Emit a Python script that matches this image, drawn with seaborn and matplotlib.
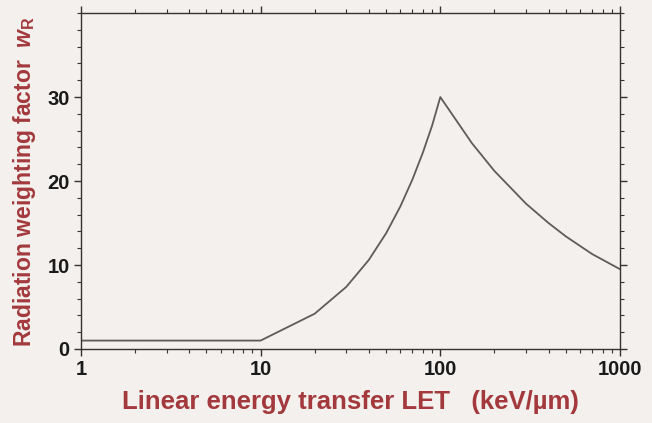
import matplotlib
matplotlib.use("Agg")
import matplotlib.pyplot as plt
import seaborn as sns
import pandas as pd
from matplotlib.ticker import LogLocator, MultipleLocator, FixedLocator

# Data
let_values = [1, 10, 20, 30, 40, 50, 60, 70, 80, 90, 100, 150, 200, 300, 400, 500, 700, 1000]
w_r_values = [1.0, 1.0, 4.2, 7.4, 10.6, 13.8, 17.0, 20.2, 23.4, 26.6, 30.0, 24.5, 21.2, 17.3, 15.0, 13.4, 11.3, 9.5]
x_ticks = [1, 10, 100, 1000]
x_ticklabels = ["1", "10", "100", "1000"]
y_ticks = [0, 10, 20, 30]
y_ticklabels = ["0", "10", "20", "30"]

df = pd.DataFrame({"LET": let_values, "wR": w_r_values})

sns.set_theme(style="white")
plt.rcParams["font.family"] = ["Liberation Sans", "DejaVu Sans"]
plt.rcParams["mathtext.fontset"] = "custom"
plt.rcParams["mathtext.rm"] = "Liberation Sans:bold"
plt.rcParams["mathtext.it"] = "Liberation Sans:italic:bold"

bg = "#f3f0ed"
fig = plt.figure(figsize=(6.52, 4.23), dpi=100, facecolor=bg)
ax = fig.add_axes([0.124, 0.175, 0.827, 0.794])
ax.set_facecolor(bg)

sns.lineplot(data=df, x="LET", y="wR", ax=ax, color="#5c5c5c", linewidth=1.3)

ax.set_xscale("log")
ax.set_xlim(1, 1000)
ax.set_ylim(0, 40)

ax.xaxis.set_major_locator(FixedLocator(x_ticks))
ax.set_xticklabels(x_ticklabels)
ax.xaxis.set_minor_locator(LogLocator(base=10, subs=range(2, 10), numticks=20))
ax.set_yticks(y_ticks)
ax.set_yticklabels(y_ticklabels)
ax.yaxis.set_minor_locator(MultipleLocator(2))

for s in ax.spines.values():
    s.set_color("#333333")
    s.set_linewidth(1.0)

ax.tick_params(axis="both", which="major", direction="out", length=5, width=1,
               color="#333333", labelsize=14.5, labelcolor="#1a1a1a",
               top=True, right=True, bottom=True, left=True,
               labeltop=False, labelright=False, pad=3)
ax.tick_params(axis="both", which="minor", direction="out", length=3, width=0.8,
               color="#333333", top=True, right=True, bottom=True, left=True)
for lab in ax.get_xticklabels() + ax.get_yticklabels():
    lab.set_fontweight("bold")

label_color = "#a3393c"
ax.set_xlabel("Linear energy transfer LET   (keV/\u00b5m)", fontsize=18.5, fontweight="bold",
              color=label_color, labelpad=8)
ax.set_ylabel("Radiation weighting factor  $\\it{w}_\\mathrm{R}$", fontsize=16.5, fontweight="bold",
              color=label_color, labelpad=7)

fig.savefig("out.png", dpi=100, facecolor=bg)
